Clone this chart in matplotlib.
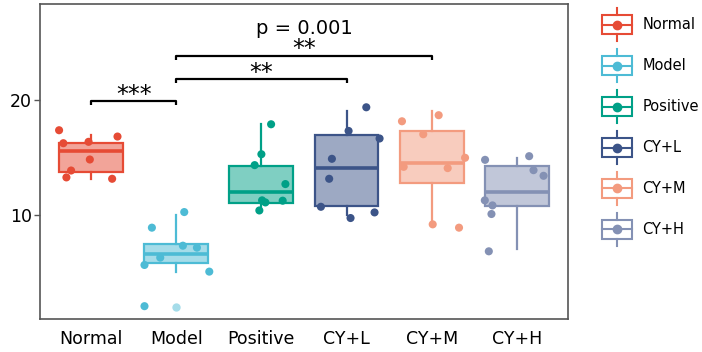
import numpy as np
import matplotlib
matplotlib.use("Agg")
import matplotlib.pyplot as plt
from matplotlib.colors import to_rgba
from matplotlib.legend_handler import HandlerBase
from matplotlib.patches import Rectangle
from matplotlib.lines import Line2D

groups = ["Normal", "Model", "Positive", "CY+L", "CY+M", "CY+H"]
colors = ["#E64B35", "#4DBBD5", "#00A087", "#3C5488", "#F39B7F", "#8491B4"]

# box statistics
q1 = [13.77, 5.83, 11.07, 10.81, 12.75, 10.78]
med = [15.57, 6.58, 12.00, 14.06, 14.52, 11.97]
q3 = [16.26, 7.51, 14.29, 17.01, 17.30, 14.26]
whislo = [13.10, 5.07, 10.40, 10.00, 9.19, 7.04]
whishi = [16.96, 10.00, 17.97, 19.04, 19.04, 14.99]
fliers = [[], [2.03], [], [], [], []]

# individual points (value, horizontal jitter)
points = [
    [17.39, 16.26, 16.38, 16.84, 14.84, 13.88, 13.28, 13.16],
    [8.90, 10.26, 7.33, 7.16, 6.29, 5.65, 5.07, 2.06],
    [17.91, 15.30, 14.35, 12.70, 11.28, 11.10, 11.25, 10.40],
    [19.39, 17.33, 16.67, 14.90, 13.16, 10.72, 9.74, 10.23],
    [18.70, 18.17, 17.04, 14.99, 14.20, 14.09, 9.19, 8.90],
    [15.13, 14.81, 13.91, 13.42, 11.28, 10.84, 10.09, 6.84],
]
jitter = [
    [-0.376, -0.326, -0.03, 0.31, -0.015, -0.235, -0.29, 0.247],
    [-0.286, 0.094, 0.078, 0.243, -0.188, -0.373, 0.388, -0.373],
    [0.114, 0.0, -0.079, 0.282, 0.008, 0.047, 0.25, -0.024],
    [0.232, 0.024, 0.388, -0.172, -0.204, -0.301, 0.047, 0.329],
    [0.082, -0.349, -0.099, 0.392, -0.329, 0.188, 0.012, 0.321],
    [0.145, -0.373, 0.196, 0.314, -0.376, -0.286, -0.298, -0.329],
]

# significance brackets: (group a, group b, bracket height, label)
brackets = [(0, 1, 19.9, "***"), (1, 3, 21.85, "**"), (1, 4, 23.9, "**")]
global_p = "p = 0.001"


class BoxLegendHandler(HandlerBase):
    def create_artists(self, legend, orig_handle, xdescent, ydescent,
                       width, height, fontsize, trans):
        c = orig_handle.get_color()
        x0, y0 = -xdescent, -ydescent
        cx, cy = x0 + width / 2, y0 + height / 2
        bh = height * 0.6
        arts = [
            Rectangle((x0, cy - bh / 2), width, bh, facecolor="white",
                      edgecolor=c, lw=1.5, transform=trans),
            Line2D([x0, x0 + width], [cy, cy], color=c, lw=1.5, transform=trans),
            Line2D([cx, cx], [cy + bh / 2, y0 + height], color=c, lw=1.5, transform=trans),
            Line2D([cx, cx], [y0, cy - bh / 2], color=c, lw=1.5, transform=trans),
            Line2D([cx], [cy], marker="o", ms=6, color=c, lw=0, transform=trans),
        ]
        return arts


fig = plt.figure(figsize=(7.02, 3.52), dpi=100)
ax = fig.add_axes([0.057, 0.094, 0.752, 0.895])

stats = []
for i, g in enumerate(groups):
    stats.append(dict(label=g, med=med[i], q1=q1[i], q3=q3[i],
                      whislo=whislo[i], whishi=whishi[i], fliers=fliers[i]))

pos = np.arange(len(groups))
bp = ax.bxp(stats, positions=pos, widths=0.75, patch_artist=True,
            showcaps=False, manage_ticks=False)
for i, c in enumerate(colors):
    bp["boxes"][i].set(facecolor=to_rgba(c, 0.5), edgecolor=c, linewidth=1.6)
    bp["medians"][i].set(color=c, linewidth=2.6)
    for w in bp["whiskers"][2 * i:2 * i + 2]:
        w.set(color=c, linewidth=1.6)
    bp["fliers"][i].set(marker="o", markerfacecolor=to_rgba(c, 0.5),
                        markeredgecolor="none", markersize=6)

for i, c in enumerate(colors):
    ax.scatter(pos[i] + np.array(jitter[i]), points[i], s=34, color=c,
               edgecolors="none", zorder=4)

for a, b, y, lab in brackets:
    ax.plot([a, a, b, b], [y - 0.35, y, y, y - 0.35], color="black", lw=1.6,
            solid_capstyle="butt", clip_on=False)
    ax.text((a + b) / 2, y - 0.5, lab, ha="center", va="bottom", fontsize=17)
ax.text((1 + 4) / 2, 25.45, global_p, ha="center", va="bottom", fontsize=14)

ax.set_xlim(-0.6, 5.6)
ax.set_ylim(0.95, 28.4)
ax.set_xticks(pos)
ax.set_xticklabels(groups, fontsize=12.5)
ax.set_yticks([10, 20])
ax.tick_params(axis="y", labelsize=12.5, length=4, width=1, color="#555555", pad=2)
ax.tick_params(axis="x", length=0, pad=8)
for s in ax.spines.values():
    s.set_color("#555555")
    s.set_linewidth(1.2)

handles = [Line2D([], [], color=c) for c in colors]
fig.legend(handles, groups, loc="upper left", bbox_to_anchor=(0.857, 0.977),
           frameon=False, fontsize=10.5, handler_map={Line2D: BoxLegendHandler()},
           handlelength=2.1, handleheight=3.1, labelspacing=0.55,
           handletextpad=0.7, borderpad=0, borderaxespad=0)

fig.savefig("out.png", dpi=100)
